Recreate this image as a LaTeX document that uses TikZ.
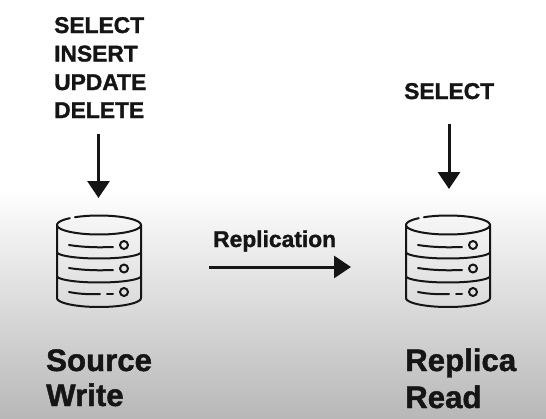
\documentclass[tikz,border=0pt]{standalone}
\usepackage{fontspec}
\setmainfont[BoldFeatures={FakeBold=1.4}]{Liberation Sans}
\usetikzlibrary{arrows.meta}
\definecolor{ink}{HTML}{151515}
\definecolor{groundend}{HTML}{B8B8B8}
\tikzset{
  x=1pt,y=-1pt,
  small/.style={font=\fontsize{22.8}{26}\selectfont\bfseries,text=ink,anchor=base west,inner sep=0pt},
  big/.style={font=\fontsize{31.2}{36}\selectfont\bfseries,text=ink,anchor=base west,inner sep=0pt},
  flow/.style={draw=ink,line width=3pt,-{Triangle[length=17pt,width=22pt]}},
  iconline/.style={draw=ink,line width=2pt,line cap=round,line join=round},
  pics/dbicon/.style={code={
    \draw[iconline] plot[smooth,domain=-125:226,samples=72] ({42*cos(\x)},{9.5*sin(\x)});
    \draw[iconline] (-42,0) -- (-42,73) -- plot[smooth,domain=180:0,samples=36] ({42*cos(\x)},{73+9*sin(\x)}) -- (42,0);
    \draw[iconline] plot[smooth,domain=180:0,samples=36] ({42*cos(\x)},{27+6.5*sin(\x)});
    \draw[iconline] plot[smooth,domain=180:0,samples=36] ({42*cos(\x)},{51+6.5*sin(\x)});
    \draw[iconline] (-30,20) .. controls (-14,22.5) and (0,22.5) .. (14,22);
    \draw[iconline] (-30,43) .. controls (-14,45.5) and (0,45.5) .. (14,45);
    \draw[iconline] (-30,67) .. controls (-20,69) and (-10,69.5) .. (1,69);
    \draw[iconline] (8,69) -- (14,69);
    \draw[iconline] (25,20) circle[radius=4];
    \draw[iconline] (25,43.5) circle[radius=4];
    \draw[iconline] (25,67) circle[radius=4];
  }}
}
\begin{document}
\begin{tikzpicture}
\useasboundingbox (0,0) rectangle (546,418);
\fill[white] (0,0) rectangle (546,418);
\shade[top color=white,bottom color=groundend] (0,188) rectangle (546,418);

\node[small] (select) at (54,33) {SELECT};
\node[small] (insert) at (54,61.5) {INSERT};
\node[small] (update) at (54,90) {UPDATE};
\node[small] (delete) at (54,118) {DELETE};
\node[small] (selectr) at (404,99) {SELECT};
\node[small] (repl) at (213,247) {Replication};
\node[big] (source) at (46,371) {Source};
\node[big] (write) at (46,406) {Write};
\node[big] (replica) at (405,371) {Replica};
\node[big] (read) at (405,408) {Read};

\coordinate (dbl) at (99,225);
\coordinate (dbr) at (448,225);
\pic at (dbl) {dbicon};
\pic at (dbr) {dbicon};

\coordinate (a1s) at (98.5,134);
\coordinate (a1e) at (98.5,198);
\coordinate (a2s) at (449,124);
\coordinate (a2e) at (449,189);
\coordinate (a3s) at (209,267);
\coordinate (a3e) at (351,267);
\draw[flow] (a1s) -- (a1e);
\draw[flow] (a2s) -- (a2e);
\draw[flow] (a3s) -- (a3e);
\end{tikzpicture}
\end{document}
